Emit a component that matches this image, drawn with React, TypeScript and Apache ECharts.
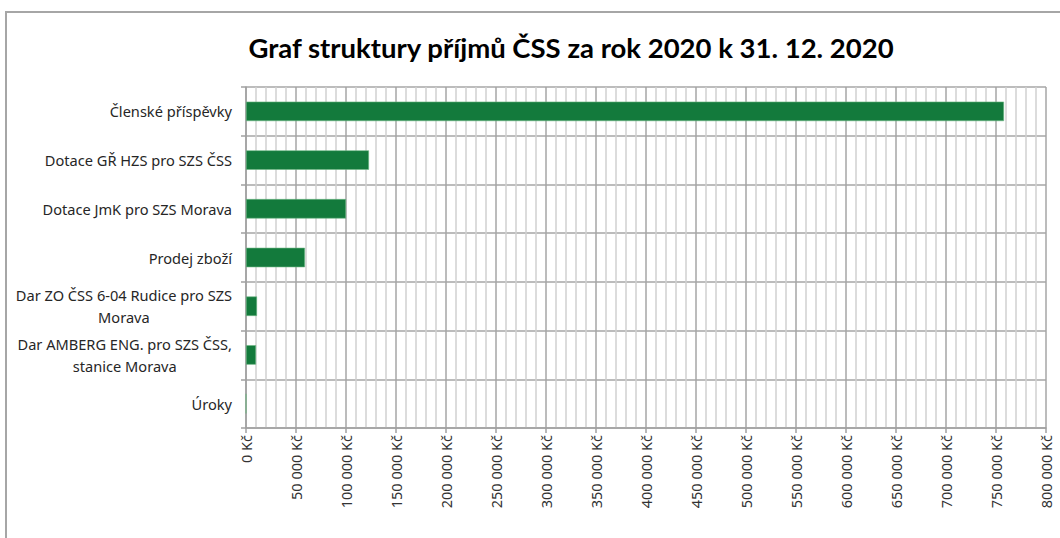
import React, { useEffect, useRef } from "react";
import * as echarts from "echarts";

const categories = [
  "Členské příspěvky",
  "Dotace GŘ HZS pro SZS ČSS",
  "Dotace JmK pro SZS Morava",
  "Prodej zboží",
  "Dar ZO ČSS 6-04 Rudice pro SZS\nMorava",
  "Dar AMBERG ENG. pro SZS ČSS,\nstanice Morava",
  "Úroky",
];
const values = [758000, 123000, 100000, 59000, 11000, 10000, 0];
const titleText = "Graf struktury příjmů ČSS za rok 2020 k 31. 12. 2020";
const xMin = 0;
const xMax = 800000;
const xInterval = 50000;

function fmtKc(v: number): string {
  const s = Math.round(v).toString().replace(/\B(?=(\d{3})+(?!\d))/g, " ");
  return s + " Kč";
}

export default function App() {
  const ref = useRef<HTMLDivElement>(null);
  useEffect(() => {
    document.body.style.margin = "0";
    if (!ref.current) return;
    const chart = echarts.init(ref.current, undefined, { renderer: "svg" });
    chart.setOption({
      animation: false,
      backgroundColor: "#ffffff",
      title: {
        text: titleText,
        left: 566,
        top: 28,
        textAlign: "center",
        textStyle: {
          fontFamily: "Lato",
          fontWeight: "bold",
          fontSize: 27.5,
          color: "#000000",
        },
      },
      graphic: [
        {
          type: "rect",
          shape: { x: 6, y: 12, width: 1100, height: 600 },
          style: { fill: "none", stroke: "#a6a6a6", lineWidth: 2 },
          silent: true,
        },
      ],
      grid: { left: 246, right: 14, top: 87, bottom: 110, containLabel: false },
      xAxis: {
        type: "value",
        min: xMin,
        max: xMax,
        interval: xInterval,
        axisLine: { show: true, lineStyle: { color: "#a0a0a0", width: 1.5 } },
        axisTick: { show: true, length: 5, lineStyle: { color: "#a0a0a0", width: 1.5 } },
        axisLabel: {
          rotate: 90,
          margin: 7,
          fontFamily: "Noto Sans",
          fontSize: 14.5,
          color: "#333333",
          formatter: (v: number) => fmtKc(v),
        },
        splitLine: { show: true, lineStyle: { color: "#a6a6a6", width: 1.5 } },
        minorTick: { show: false, splitNumber: 5 },
        minorSplitLine: { show: true, lineStyle: { color: "#d0d0d0", width: 1.5 } },
      },
      yAxis: {
        type: "category",
        data: categories,
        inverse: true,
        axisLine: { show: true, lineStyle: { color: "#a0a0a0", width: 1.5 } },
        axisTick: { show: true, length: 5, lineStyle: { color: "#a0a0a0", width: 1.5 } },
        splitLine: { show: true, lineStyle: { color: "#a6a6a6", width: 1.5 } },
        axisLabel: {
          margin: 14,
          fontFamily: "Noto Sans",
          fontSize: 14.6,
          color: "#262626",
          lineHeight: 22,
          formatter: (v: string) => "{c|" + v.split("\n").join("}\n{c|") + "}",
          rich: {
            c: {
              align: "center",
              fontFamily: "Noto Sans",
              fontSize: 14.6,
              color: "#262626",
              lineHeight: 22,
            },
          },
        },
      },
      series: [
        {
          type: "bar",
          data: values,
          barCategoryGap: "60%",
          itemStyle: { color: "#137a3c", borderColor: "#6fb885", borderWidth: 0.6 },
        },
      ],
    });
    return () => chart.dispose();
  }, []);
  return <div ref={ref} style={{ width: 1060, height: 538 }} />;
}
